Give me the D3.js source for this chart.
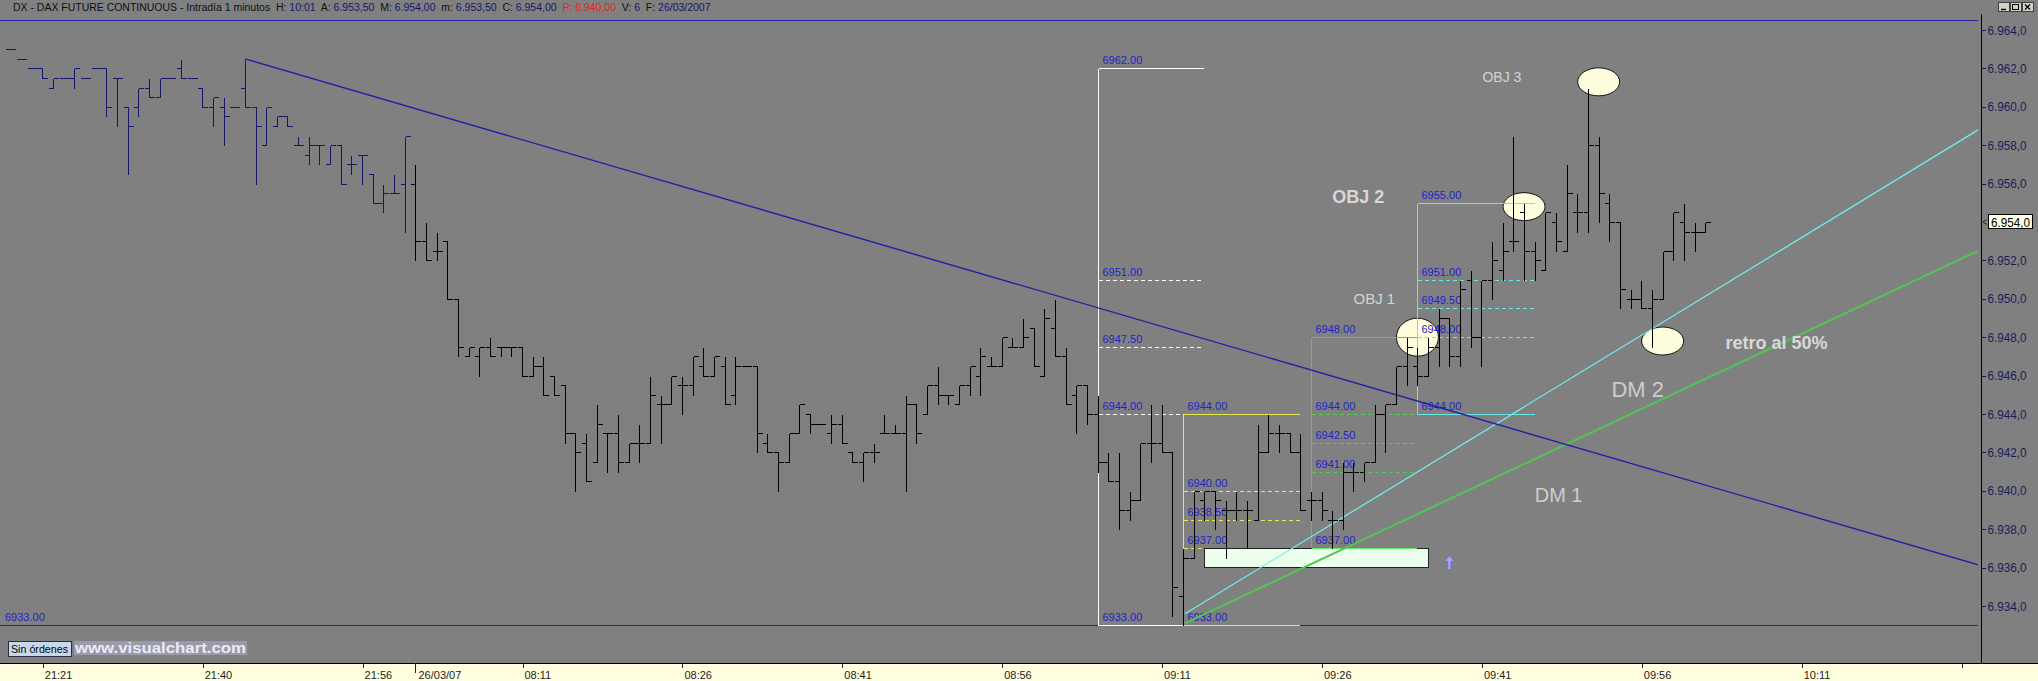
<!DOCTYPE html>
<html><head><meta charset="utf-8">
<script src="https://cdn.jsdelivr.net/npm/d3@7/dist/d3.min.js"></script>
<style>
html,body{margin:0;padding:0;background:#808080;overflow:hidden;}
svg{display:block;font-family:"Liberation Sans",Arial,sans-serif;}
</style></head><body>
<svg id="chart" width="2038" height="681"></svg>
<script>
// ---------------- DATA ----------------
const opens = [
6963,6962.5,6962,6962,6961,6961.5,6961.5,6961.5,6962,6962,
6961.5,6960,6960,6961,6960.5,6961.5,6962,6961.5,6961,6960,
6960,6960,6961,6960,6958,6959,6959.5,6958,6957.5,6958,
6957,6958,6957,6957.5,6956.5,6955,6955.5,6956,6956,6953,
6952.5,6953,6950,6947,6947,6947.5,6947.5,6947.5,6947.5,6946,
6946.5,6946,6945.5,6943,6942.5,6941.5,6943,6943,6941.5,6942.5,
6942.5,6944.5,6944.5,6945.5,6945.5,6946.5,6946,6946.5,6945,6946.5,
6946.5,6942.5,6942,6941.5,6943,6944,6943.5,6943,6943.5,6942,
6941.5,6942,6943,6943,6943,6944.5,6944,6945.5,6945,6944.5,
6945.5,6946,6946.5,6946.5,6947.5,6947.5,6948.5,6946,6948.5,6947,
6945,6945.5,6944,6941.5,6940.5,6939,6939.5,6942.5,6942.5,6942,
6934.5,6936.5,6939.5,6940,6939,6939,6939,6938.5,6942,6943,
6943,6942,6939.5,6939.5,6938.5,6938.5,6941,6941,6941.5,6944,
6944.5,6946.5,6946.5,6946,6947.5,6949,6947,6951,6948,6951,
6951.5,6953,6954.5,6952.5,6951.5,6954,6952.5,6954.5,6954.5,6958,
6955,6954,6950,6950,6949.5,6950,6952.5,6954,6953.5,6953.5];
const highs = [
6963,6962.5,6962,6962,6961.5,6961.5,6962,6961.5,6962,6962,
6961.5,6960,6961,6961.5,6961.5,6961.5,6962.5,6961.5,6961,6960.5,
6960.5,6960,6962.5,6960,6960,6959.5,6959.5,6958.5,6958.5,6958,
6958,6958,6957.5,6957.5,6956.5,6956,6956.5,6958.5,6957,6954,
6953.5,6953,6950,6947.5,6947.5,6948,6947.5,6947.5,6947.5,6947,
6947,6946,6945.5,6943,6943,6944.5,6943,6944,6942.5,6943.5,
6946,6945,6946,6946,6947,6947.5,6947,6947,6947,6946.5,
6946.5,6943,6942,6943,6944.5,6944,6943.5,6944,6944,6942,
6942,6942.5,6944,6943.5,6945,6944.5,6945.5,6946.5,6945,6945.5,
6946.5,6947.5,6947,6948,6948,6949,6948.5,6949.5,6950,6947.5,
6945.5,6945.5,6945,6942,6942,6940,6942.5,6944.5,6944.5,6942,
6937,6940,6940,6940,6939.5,6940,6939.5,6943.5,6944,6943.5,
6943,6943,6940,6940,6939,6941.5,6941.5,6941.5,6944.5,6944.5,
6946.5,6948,6947.5,6948,6949.5,6949,6951,6951.5,6951,6953,
6954,6958.5,6955,6953,6954.5,6954.5,6957,6955.5,6961,6958.5,
6955.5,6954,6950.5,6951,6950.5,6952.5,6954.5,6955,6954,6954];
const lows = [
6963,6962.5,6962,6961.5,6961,6961.5,6961,6961.5,6962,6959.5,
6959,6956.5,6959.5,6960.5,6960.5,6961.5,6961.5,6961.5,6960,6959,
6958,6960,6960,6956,6958,6959,6959,6958,6957,6957,
6957,6956,6956.5,6956,6955,6954.5,6955.5,6953.5,6952,6952,
6952,6950,6947,6947,6946,6947,6947,6947,6946,6946,
6945,6945,6942.5,6940,6940.5,6941.5,6941,6941,6941.5,6941.5,
6942.5,6942.5,6944.5,6944,6945,6946,6946,6944.5,6944.5,6946.5,
6942,6942,6940,6941.5,6943,6943,6943.5,6942.5,6942.5,6941.5,
6940.5,6941.5,6943,6943,6940,6942.5,6944,6944.5,6944.5,6944.5,
6945,6945,6946.5,6946.5,6947.5,6947.5,6946.5,6946,6947,6944.5,
6943,6943.5,6941,6940.5,6938,6938.5,6939.5,6941.5,6942,6933.5,
6933,6936.5,6938.5,6938,6936.5,6938.5,6937,6938.5,6942,6942,
6942,6939,6938.5,6938.5,6937,6938,6940,6940.5,6941.5,6942,
6944.5,6945.5,6945.5,6946,6946.5,6946.5,6946.5,6947.5,6946.5,6950,
6951,6952.5,6951,6951,6951.5,6952.5,6952.5,6953.5,6953.5,6954,
6953,6949.5,6949.5,6949.5,6947.5,6950,6952,6952,6952.5,6953.5];
const closes = [
6963,6962.5,6962,6961.5,6961.5,6961.5,6962,6961.5,6962,6960,
6961.5,6959,6961,6960.5,6961.5,6961.5,6961.5,6961.5,6960,6960.5,
6959.5,6960,6960,6959,6960,6959.5,6959,6958,6958,6958,
6958,6956,6957,6957.5,6955,6955.5,6955.5,6958.5,6953,6952,
6952.5,6950,6947.5,6947.5,6947.5,6947,6947.5,6947.5,6946,6946.5,
6945,6945,6943,6942,6940.5,6943.5,6943,6941.5,6942.5,6942.5,
6945,6944.5,6946,6945.5,6947,6946,6947,6944.5,6946.5,6946.5,
6943,6942,6941.5,6943,6944.5,6943.5,6943.5,6943.5,6942.5,6941.5,
6942,6942,6943,6943,6944.5,6943,6945.5,6945,6945,6945.5,
6946.5,6947,6946.5,6948,6947.5,6948,6946.5,6949,6947,6944.5,
6945.5,6944,6941.5,6940.5,6939,6939.5,6942.5,6942.5,6942,6935,
6936.5,6940,6940,6939.5,6939,6939,6939,6942,6943,6943,
6942,6939,6939.5,6939,6938.5,6941,6941,6941.5,6944,6944.5,
6946.5,6947.5,6946,6947.5,6949,6947,6950.5,6948,6951,6952,
6952.5,6953,6952.5,6952,6954.5,6953,6955.5,6954.5,6958,6955.5,
6954,6950.5,6950,6949.5,6950,6952.5,6954.5,6953.5,6953.5,6954];

const timeTickBars   = [3,18,33,48,63,78,93,108,123,138,153,168,183];
const timeTickLabels = ["21:21","21:40","21:56","08:11","08:26","08:41","08:56","09:11","09:26","09:41","09:56","10:11",""];
const sessionBreakBar = 38;
const sessionBreakLabel = "26/03/07";
const priceTicks = [6934,6936,6938,6940,6942,6944,6946,6948,6950,6952,6954,6956,6958,6960,6962,6964];

const hLineLevels = [6964.5, 6933];
const fibLevelsWhite  = [6962, 6951, 6947.5, 6944, 6933];
const fibLevelsYellow = [6944, 6940, 6938.5, 6937, 6933];
const fibLevelsGreen  = [6948, 6944, 6942.5, 6941, 6937];
const fibLevelsCyan   = [6955, 6951, 6949.5, 6948, 6944];
const fibStartBars = [102, 110, 122, 132];
const fibEndBars   = [112, 121, 132, 143];

const trendBlue  = [[22, 6962.5], [184.6, 6936.15]];
const trendCyan  = [[110.2, 6933.6], [184.6, 6958.8]];
const trendGreen = [[110.2, 6933.1], [184.6, 6952.5]];

const zoneBars   = [112, 133];
const zonePrices = [6937, 6936];

const ellipseBars   = [149, 142, 155, 132];
const ellipsePrices = [6961.3, 6954.8, 6947.8, 6948.0];

const noteTexts  = ["OBJ 3","OBJ 2","OBJ 1","DM 2","DM 1","retro al 50%"];
const noteBars   = [138.1, 124.0, 126.0, 150.2, 143.0, 160.9];
const notePrices = [6961.3, 6955.0, 6949.75, 6944.9, 6939.4, 6947.4];

const arrowBar = 135, arrowPrice = 6936.2;

const headerParts = [
 ["DX - DAX FUTURE CONTINUOUS - Intradía 1 minutos  H: ","k"],["10:01","b"],
 ["  A: ","k"],["6.953,50","b"],["  M: ","k"],["6.954,00","b"],
 ["  m: ","k"],["6.953,50","b"],["  C: ","k"],["6.954,00","b"],
 ["  P: ","r"],["6.940,00","r"],["  V: ","k"],["6","b"],
 ["  F: ","k"],["26/03/2007","b"]];

// ---------------- STYLES ----------------
const W = 2038, H = 681, PLOT_T = 14, AXIS_Y = 663, AXIS_X = 1981, LINE_END = 1978;
const fibColors = ["#ffffff","#e6e650","#4ed04e","#66e8e8"];
const ellipseR = [[21,14],[21,14],[21,14],[21,19]];
const noteStyles = [
 {size:14, weight:400, fill:"#d4d4d4"},
 {size:18, weight:700, fill:"#d8d8d8"},
 {size:15, weight:400, fill:"#d4d4d4"},
 {size:22, weight:400, fill:"#cdcdcd"},
 {size:20, weight:400, fill:"#cdcdcd"},
 {size:18, weight:700, fill:"#d8d8d8"}];
const headerColors = {k:"#101010", b:"#16166e", r:"#e82020"};

// ---------------- SCALES ----------------
const x = d3.scaleLinear().domain([0, 183]).range([10.32, 1961.1]);
const y = d3.scaleLinear().domain([6934, 6964]).range([606, 30]);
const px = v => Math.round(v) + 0.5;
const fmtAxis = d3.formatLocale({decimal:",", thousands:".", grouping:[3], currency:["","€"]}).format(",.1f");
const fmtLvl = d3.format(".2f");

const svg = d3.select("#chart");
svg.append("rect").attr("width", W).attr("height", H).attr("fill", "#808080");

const defs = svg.append("defs");
defs.append("clipPath").attr("id","plotClip").append("rect")
  .attr("x",0).attr("y",PLOT_T).attr("width",LINE_END).attr("height",AXIS_Y-PLOT_T);
const plot = svg.append("g").attr("clip-path","url(#plotClip)");

// horizontal blue level lines
plot.append("g").attr("shape-rendering","crispEdges").selectAll("line").data(hLineLevels).join("line")
  .attr("x1",0).attr("x2",LINE_END)
  .attr("y1",d=>px(y(d))).attr("y2",d=>px(y(d)))
  .attr("stroke","#2020a4").attr("stroke-width",1.4);
plot.append("text").attr("x",5).attr("y",y(hLineLevels[1])-4)
  .attr("font-size",11).attr("fill","#2222cc").text(fmtLvl(hLineLevels[1]));

// ellipses (behind everything else)
plot.append("g").selectAll("ellipse").data(ellipseBars).join("ellipse")
  .attr("cx",(d,i)=>x(d)).attr("cy",(d,i)=>y(ellipsePrices[i]))
  .attr("rx",(d,i)=>ellipseR[i][0]).attr("ry",(d,i)=>ellipseR[i][1])
  .attr("fill","#fdfdde").attr("stroke","#111").attr("stroke-width",1);

// fibonacci retracements
const fibSets = [fibLevelsWhite, fibLevelsYellow, fibLevelsGreen, fibLevelsCyan];
const fibG = plot.append("g");
fibSets.forEach((lv, k) => {
  const x0 = px(x(fibStartBars[k])), x1 = Math.round(x(fibEndBars[k]));
  const g = fibG.append("g").attr("shape-rendering","crispEdges");
  g.append("line").attr("x1",x0).attr("x2",x0)
    .attr("y1",px(y(lv[0]))).attr("y2",px(y(lv[lv.length-1])))
    .attr("stroke",fibColors[k]).attr("stroke-width",1);
  g.selectAll("line.lvl").data(lv).join("line").attr("class","lvl")
    .attr("x1",x0).attr("x2",x1)
    .attr("y1",d=>px(y(d))).attr("y2",d=>px(y(d)))
    .attr("stroke",fibColors[k]).attr("stroke-width",1)
    .attr("stroke-dasharray",(d,j)=> (j===0||j===lv.length-1) ? null : "4,3");
  fibG.selectAll(null).data(lv).join("text")
    .attr("x",x0+4).attr("y",d=>y(d)-4)
    .attr("font-size",11).attr("fill","#2222cc").text(d=>fmtLvl(d));
});

// light green zone rectangle
plot.append("rect")
  .attr("x",px(x(zoneBars[0]))).attr("y",px(y(zonePrices[0])))
  .attr("width",Math.round(x(zoneBars[1])-x(zoneBars[0])))
  .attr("height",Math.round(y(zonePrices[1])-y(zonePrices[0])))
  .attr("fill","#ecffec").attr("stroke","#222").attr("stroke-width",1)
  .attr("shape-rendering","crispEdges");
plot.append("line").attr("shape-rendering","crispEdges")
  .attr("x1",px(x(fibStartBars[2]))).attr("x2",Math.round(x(fibEndBars[2])))
  .attr("y1",px(y(zonePrices[0]))).attr("y2",px(y(zonePrices[0])))
  .attr("stroke","#5ef05e").attr("stroke-width",1.5);

// trend lines
const line = d3.line().x(d=>x(d[0])).y(d=>y(d[1]));
plot.append("path").attr("d",line(trendGreen)).attr("fill","none").attr("stroke","#52c452").attr("stroke-width",2);
plot.append("path").attr("d",line(trendCyan)).attr("fill","none").attr("stroke","#6ff0f0").attr("stroke-width",1.2);
plot.append("path").attr("d",line(trendBlue)).attr("fill","none").attr("stroke","#2020a8").attr("stroke-width",1.4);

// OHLC bars
const barG = plot.append("g").attr("shape-rendering","crispEdges").attr("fill","none");
opens.forEach((o,i) => {
  const cx = px(x(i));
  const d = `M${cx},${px(y(highs[i]))}V${px(y(lows[i]))}` +
            `M${cx-5},${px(y(o))}H${cx}` +
            `M${cx},${px(y(closes[i]))}H${cx+5}`;
  barG.append("path").attr("d",d)
    .attr("stroke", i < sessionBreakBar ? "#16166a" : "#000000").attr("stroke-width",1);
});

// up arrow marker
{
  const ax = x(arrowBar), ay = y(arrowPrice);
  plot.append("path")
    .attr("d",`M${ax},${ay-8}L${ax-4.5},${ay-2.5}L${ax-1.5},${ay-2.5}L${ax-1.5},${ay+6}L${ax+1.5},${ay+6}L${ax+1.5},${ay-2.5}L${ax+4.5},${ay-2.5}Z`)
    .attr("fill","#a8a8ff").attr("stroke","#6c6ce0").attr("stroke-width",0.8);
}

// annotations
plot.append("g").selectAll("text").data(noteTexts).join("text")
  .attr("x",(d,i)=>x(noteBars[i])).attr("y",(d,i)=>y(notePrices[i]))
  .attr("font-size",(d,i)=>noteStyles[i].size).attr("font-weight",(d,i)=>noteStyles[i].weight)
  .attr("fill",(d,i)=>noteStyles[i].fill).text(d=>d);

// ---------------- RIGHT PRICE AXIS ----------------
const lastClose = closes[closes.length-1];
const yAxisG = svg.append("g").attr("transform",`translate(${AXIS_X+0.5},0)`)
  .call(d3.axisRight(y).tickValues(priceTicks.filter(v=>v!==lastClose)).tickFormat(fmtAxis).tickSize(4).tickPadding(2));
yAxisG.select(".domain").remove();
yAxisG.selectAll(".tick line").attr("stroke","#1c1c50").attr("shape-rendering","crispEdges");
yAxisG.selectAll(".tick text").attr("fill","#1c1c5c").attr("font-size",13)
  .attr("font-family","'Liberation Sans',Arial,sans-serif")
  .attr("textLength",39).attr("lengthAdjust","spacingAndGlyphs");
svg.append("line").attr("x1",AXIS_X+0.5).attr("x2",AXIS_X+0.5).attr("y1",PLOT_T).attr("y2",AXIS_Y)
  .attr("stroke","#000").attr("shape-rendering","crispEdges");
// current price box
{
  const cy = y(lastClose);
  svg.append("path").attr("d",`M${AXIS_X+2},${cy}L${AXIS_X+6},${cy-2.5}M${AXIS_X+2},${cy}L${AXIS_X+6},${cy+2.5}`)
    .attr("stroke","#222").attr("fill","none");
  svg.append("rect").attr("x",1988.5).attr("y",Math.round(cy)-7.5).attr("width",44).attr("height",14)
    .attr("fill","#ffffe4").attr("stroke","#000").attr("shape-rendering","crispEdges");
  svg.append("text").attr("x",1991).attr("y",cy+5).attr("font-size",13).attr("fill","#000")
    .attr("textLength",39).attr("lengthAdjust","spacingAndGlyphs").text(fmtAxis(lastClose));
}

// ---------------- BOTTOM TIME AXIS ----------------
svg.append("rect").attr("x",0).attr("y",AXIS_Y).attr("width",W).attr("height",H-AXIS_Y).attr("fill","#ffffe0");
const xAxisG = svg.append("g").attr("transform",`translate(0,${AXIS_Y+0.5})`)
  .call(d3.axisBottom(x).tickValues(timeTickBars).tickFormat((d,i)=>timeTickLabels[i]).tickSize(4).tickPadding(4));
xAxisG.select(".domain").remove();
xAxisG.selectAll(".tick line").attr("stroke","#222").attr("shape-rendering","crispEdges")
  .attr("transform","translate(0.5,0)");
xAxisG.selectAll(".tick text").attr("text-anchor","start").attr("x",2).attr("fill","#1a1a2a")
  .attr("font-size",11).attr("font-family","'Liberation Sans',Arial,sans-serif");
svg.append("line").attr("x1",0).attr("x2",W).attr("y1",AXIS_Y+0.5).attr("y2",AXIS_Y+0.5)
  .attr("stroke","#000").attr("shape-rendering","crispEdges");
{
  const bx = Math.round(x(sessionBreakBar)) + 0.5;
  svg.append("line").attr("x1",bx).attr("x2",bx).attr("y1",AXIS_Y).attr("y2",AXIS_Y+10)
    .attr("stroke","#222").attr("shape-rendering","crispEdges");
  svg.append("text").attr("x",bx+3).attr("y",AXIS_Y+4+4+7.8).attr("font-size",11).attr("fill","#1a1a2a")
    .text(sessionBreakLabel);
}

// ---------------- HEADER ----------------
{
  const t = svg.append("text").attr("x",13).attr("y",11).attr("font-size",10)
    .style("white-space","pre");
  headerParts.forEach(p => t.append("tspan").attr("fill",headerColors[p[1]]).text(p[0]));
  const w = t.node().getComputedTextLength();
  const target = 698;
  t.attr("transform",`translate(13,0) scale(${target/w},1) translate(-13,0)`);
}
// window buttons
{
  const bxs = [1998, 2010, 2022];
  bxs.forEach((bx,k)=>{
    svg.append("rect").attr("x",bx+0.5).attr("y",2.5).attr("width",11).attr("height",9)
      .attr("fill","#d4d0c8").attr("stroke","#404040").attr("shape-rendering","crispEdges");
  });
  svg.append("line").attr("x1",2001).attr("x2",2006).attr("y1",9.5).attr("y2",9.5).attr("stroke","#000").attr("stroke-width",1.5);
  svg.append("rect").attr("x",2012.5).attr("y",4.5).attr("width",6).attr("height",5).attr("fill","none").attr("stroke","#000").attr("shape-rendering","crispEdges");
  svg.append("path").attr("d","M2025,4.5L2030,9.5M2030,4.5L2025,9.5").attr("stroke","#000").attr("stroke-width",1.3);
}

// ---------------- FOOTER WIDGETS ----------------
svg.append("rect").attr("x",8.5).attr("y",641.5).attr("width",63).attr("height",15)
  .attr("fill","#c6d8ec").attr("stroke","#2a2a40").attr("shape-rendering","crispEdges");
svg.append("text").attr("x",11).attr("y",653).attr("font-size",11).attr("fill","#000")
  .attr("textLength",57).attr("lengthAdjust","spacingAndGlyphs").text("Sin órdenes");
svg.append("rect").attr("x",74).attr("y",641).attr("width",173).attr("height",14).attr("fill","#9a9aa8");
svg.append("text").attr("x",75).attr("y",653).attr("font-size",15.5).attr("font-weight",700)
  .attr("fill","#eaeaf8").attr("textLength",171).attr("lengthAdjust","spacingAndGlyphs").text("www.visualchart.com");
</script>
</body></html>
